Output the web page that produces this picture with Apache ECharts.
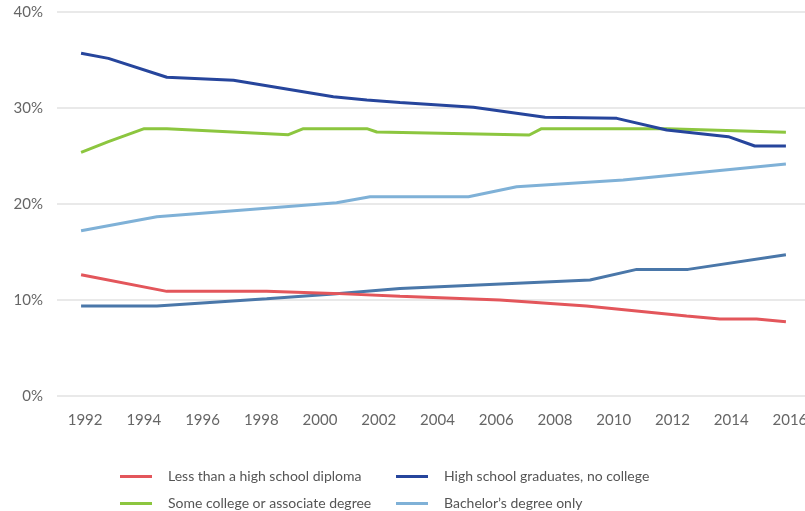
<!DOCTYPE html>
<html>
<head>
<meta charset="utf-8">
<script src="https://cdn.jsdelivr.net/npm/echarts@6/dist/echarts.min.js"></script>
<style>
  html, body { margin: 0; padding: 0; background: #fff; }
  #main { width: 805px; height: 511px; }
</style>
</head>
<body>
<div id="main"></div>
<script>
var myChart = echarts.init(document.getElementById('main'));

var yearTicks = [1992, 1994, 1996, 1998, 2000, 2002, 2004, 2006, 2008, 2010, 2012, 2014, 2016];

var lessHsYears = [1992, 1994.92, 1998.32, 2000.59, 2002.86, 2006.26, 2009.21, 2012.62, 2013.75, 2015.0, 2016];
var lessHsVals  = [12.64, 10.9, 10.9, 10.69, 10.4, 10.0, 9.38, 8.33, 8.02, 8.02, 7.74];

var hsGradYears = [1992, 1992.93, 1994.92, 1997.19, 2000.59, 2001.73, 2002.86, 2005.36, 2007.8, 2010.24, 2011.94, 2014.04, 2014.94, 2016];
var hsGradVals  = [35.7, 35.17, 33.2, 32.88, 31.18, 30.83, 30.57, 30.07, 29.03, 28.92, 27.71, 27.01, 26.04, 26.04];

var someColYears = [1992, 1992.93, 1994.15, 1994.92, 1999.06, 1999.57, 2001.73, 2002.07, 2007.26, 2007.68, 2011.94, 2016];
var someColVals  = [25.38, 26.49, 27.85, 27.85, 27.22, 27.85, 27.85, 27.5, 27.19, 27.85, 27.85, 27.47];

var bachYears = [1992, 1994.58, 2000.7, 2001.84, 2005.19, 2006.83, 2010.46, 2016];
var bachVals  = [17.22, 18.68, 20.14, 20.76, 20.76, 21.8, 22.5, 24.17];

var advYears = [1992, 1994.58, 1998.32, 2000.59, 2002.86, 2009.33, 2010.92, 2012.67, 2016];
var advVals  = [9.38, 9.38, 10.14, 10.63, 11.2, 12.08, 13.19, 13.19, 14.72];

function pairs(xs, ys) {
    return xs.map(function (x, i) { return [x, ys[i]]; });
}

function lineSeries(name, color, xs, ys) {
    return {
        name: name,
        type: 'line',
        data: pairs(xs, ys),
        symbol: 'none',
        color: color,
        lineStyle: { width: 3, color: color },
        emphasis: { disabled: true }
    };
}

var legendBase = {
    orient: 'vertical',
    top: 468,
    height: 60,
    padding: 0,
    icon: 'rect',
    itemWidth: 32,
    itemHeight: 3,
    itemGap: 10,
    textStyle: {
        fontFamily: 'Lato',
        fontSize: 14,
        color: '#555',
        lineHeight: 17,
        padding: [0, 0, 0, 11]
    }
};

var option = {
    backgroundColor: '#fff',
    animation: false,
    textStyle: { fontFamily: 'Lato' },
    legend: [
        Object.assign({}, legendBase, {
            left: 120,
            data: ['Less than a high school diploma', 'Some college or associate degree']
        }),
        Object.assign({}, legendBase, {
            left: 396,
            data: ['High school graduates, no college', 'Bachelor\u2019s degree only']
        })
    ],
    grid: {
        left: 57,
        right: 0,
        top: 12,
        bottom: 115,
        outerBoundsMode: 'none'
    },
    xAxis: {
        type: 'value',
        min: 1991.18,
        max: 2016.65,
        axisLine: { show: false },
        axisTick: { show: false },
        splitLine: { show: false },
        axisLabel: {
            customValues: yearTicks,
            margin: 17,
            fontSize: 15,
            color: '#666',
            padding: [0, 0, 0, 8],
            formatter: function (v) { return String(v); }
        }
    },
    yAxis: {
        type: 'value',
        min: 0,
        max: 40,
        interval: 10,
        axisLine: { show: false },
        axisTick: { show: false },
        axisLabel: {
            margin: 14,
            fontSize: 15,
            color: '#666',
            formatter: '{value}%'
        },
        splitLine: {
            lineStyle: { color: '#e2e2e2', width: 1.5 }
        }
    },
    series: [
        lineSeries('Advanced degree', '#4a77a9', advYears, advVals),
        lineSeries('Bachelor\u2019s degree only', '#7fb1d7', bachYears, bachVals),
        lineSeries('Less than a high school diploma', '#e3565b', lessHsYears, lessHsVals),
        lineSeries('Some college or associate degree', '#8cc63f', someColYears, someColVals),
        lineSeries('High school graduates, no college', '#26459c', hsGradYears, hsGradVals)
    ]
};

myChart.setOption(option);
</script>
</body>
</html>
